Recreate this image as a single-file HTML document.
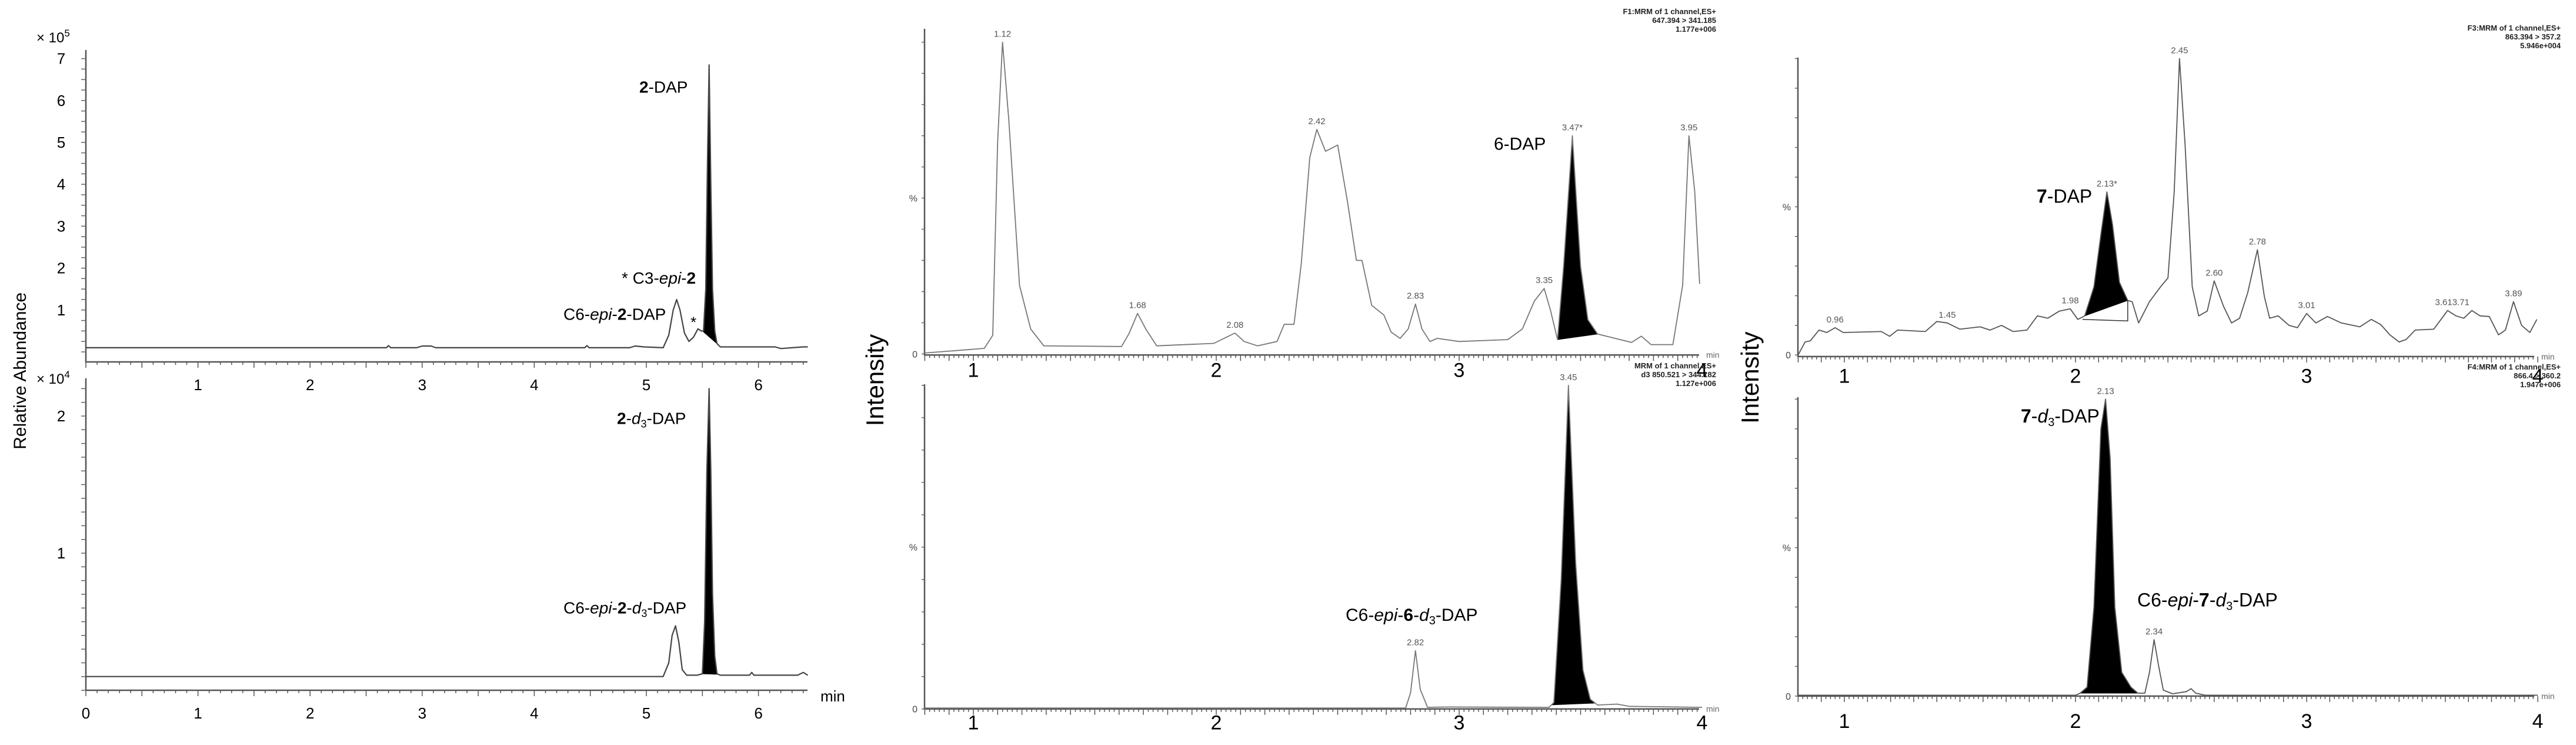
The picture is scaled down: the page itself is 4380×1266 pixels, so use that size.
<!DOCTYPE html>
<html><head><meta charset="utf-8"><style>
html,body{margin:0;padding:0;background:#fff;overflow:hidden;}
svg{display:block;font-family:"Liberation Sans",sans-serif;}
</style></head><body>
<svg id="fig" width="4380" height="1266" viewBox="0 0 4380 1266" xmlns="http://www.w3.org/2000/svg">
<g id="g"></g>
</svg>
<script>
// ---- data: [time(min), value] ----
const p1TopTrace=[[0,0.1],[2.68,0.1],[2.7,0.15],[2.72,0.1],[2.95,0.1],[3.0,0.14],[3.08,0.14],[3.12,0.1],[4.45,0.1],[4.47,0.15],[4.49,0.1],[4.85,0.1],[4.9,0.14],[4.98,0.12],[5.15,0.1],[5.2,0.4],[5.24,1.0],[5.27,1.25],[5.3,1.0],[5.34,0.45],[5.38,0.25],[5.42,0.35],[5.46,0.55],[5.49,0.5],[5.51,0.5],[5.53,1.5],[5.545,4.5],[5.56,6.85],[5.575,4.0],[5.59,1.5],[5.61,0.5],[5.63,0.2],[5.66,0.12],[6.15,0.12],[6.2,0.08],[6.3,0.1],[6.4,0.12],[6.44,0.12]];
const p1TopFill=[5.50,5.64];
const p1BotTrace=[[0,0.1],[5.15,0.1],[5.2,0.2],[5.23,0.4],[5.26,0.47],[5.29,0.35],[5.32,0.15],[5.36,0.11],[5.45,0.11],[5.5,0.12],[5.52,0.5],[5.54,1.6],[5.56,2.2],[5.575,1.6],[5.59,0.7],[5.61,0.25],[5.63,0.12],[5.66,0.11],[5.92,0.11],[5.94,0.13],[5.96,0.11],[6.35,0.11],[6.4,0.13],[6.44,0.11]];
const p1BotFill=[5.50,5.64];
const p2TopTrace=[[0.8,0.3],[1.045,1.8],[1.08,6],[1.1,68],[1.12,100],[1.146,75],[1.19,22],[1.236,8],[1.29,2.6],[1.61,2.4],[1.64,6.4],[1.676,13],[1.71,8],[1.755,2.6],[1.99,3.4],[2.05,5.7],[2.077,6.7],[2.115,4],[2.17,2.6],[2.25,4],[2.28,9.5],[2.32,9.5],[2.35,29],[2.385,63],[2.414,72],[2.45,65],[2.5,67],[2.54,49],[2.577,30],[2.6,30],[2.64,15.6],[2.69,12.5],[2.72,7],[2.757,5],[2.79,8],[2.82,16],[2.847,8],[2.88,4],[2.91,5],[3.0,4],[3.2,4.6],[3.26,8],[3.31,17],[3.35,21],[3.376,14],[3.405,4.6],[3.43,28],[3.466,70],[3.5,28],[3.53,11],[3.57,6.4],[3.71,3.7],[3.75,5.7],[3.79,3],[3.88,3],[3.92,22],[3.946,70],[3.97,52],[3.99,22.5]];
const p2TopFill=[3.405,3.57];
const p2BotTrace=[[0.8,0.3],[2.78,0.3],[2.8,5],[2.82,18],[2.84,6],[2.87,0.5],[2.95,0.6],[3.37,0.5],[3.39,2],[3.42,40],[3.45,100],[3.48,45],[3.51,12],[3.54,3],[3.57,1.2],[3.65,1.5],[3.7,0.8],[4.0,0.5]];
const p2BotFill=[3.38,3.56];
const p3TopTrace=[[0.8,0],[0.83,4.4],[0.853,4.8],[0.89,8.4],[0.924,7.6],[0.96,9.2],[0.995,7.6],[1.16,7.9],[1.196,6.3],[1.23,8.4],[1.35,7.9],[1.4,11.3],[1.445,10.8],[1.5,8.7],[1.587,9.5],[1.63,8.4],[1.68,10],[1.73,7.9],[1.79,8.4],[1.835,13.2],[1.88,12.4],[1.93,14.8],[1.977,15.6],[2.01,12],[2.04,13.2],[2.08,23],[2.11,40.6],[2.136,55],[2.16,44],[2.19,24.5],[2.226,18.4],[2.245,18],[2.273,10.8],[2.32,18],[2.368,23],[2.4,26],[2.427,55],[2.45,100],[2.474,71],[2.505,23],[2.533,13.2],[2.57,14.8],[2.6,25],[2.64,16.5],[2.675,10.8],[2.71,12.4],[2.745,21],[2.787,35.5],[2.817,19.7],[2.84,12.4],[2.877,13.2],[2.924,10],[2.96,9.2],[3.0,14],[3.04,10.8],[3.09,13],[3.15,10.8],[3.23,9.5],[3.28,12],[3.32,10.3],[3.36,6.8],[3.4,4.4],[3.43,5.2],[3.47,8.4],[3.55,8.7],[3.61,15],[3.646,13.2],[3.68,12.4],[3.715,15],[3.75,13.2],[3.79,13],[3.83,6.8],[3.86,8.4],[3.895,18],[3.93,10],[3.966,7.6],[3.996,12]];
const p3TopFill=[2.04,2.226];
const p3BotTrace=[[0.8,0.3],[2.0,0.3],[2.02,1],[2.05,3],[2.08,30],[2.11,90],[2.13,100],[2.15,80],[2.17,30],[2.2,8],[2.24,3],[2.27,1],[2.3,1],[2.32,8],[2.34,19],[2.36,10],[2.38,2],[2.42,0.8],[2.48,1.5],[2.5,2.5],[2.52,1],[2.56,0.3],[4.0,0.3]];
const p3BotFill=[2.02,2.27];
// peak labels [time, value, text]
const p2TopPeaks=[[1.12,100,"1.12"],[1.676,13,"1.68"],[2.077,6.7,"2.08"],[2.414,72,"2.42"],[2.82,16,"2.83"],[3.35,21,"3.35"],[3.466,70,"3.47*"],[3.946,70,"3.95"]];
const p2BotPeaks=[[2.82,18,"2.82"],[3.45,100,"3.45"]];
const p3TopPeaks=[[0.96,9.2,"0.96"],[1.445,10.8,"1.45"],[1.977,15.6,"1.98"],[2.136,55,"2.13*"],[2.45,100,"2.45"],[2.6,25,"2.60"],[2.787,35.5,"2.78"],[3.0,14,"3.01"],[3.63,15,"3.613.71"],[3.895,18,"3.89"]];
const p3BotPeaks=[[2.13,100,"2.13"],[2.34,19,"2.34"]];
const p1XTicks=[0,1,2,3,4,5,6];
const p1TopYTicks=[1,2,3,4,5,6,7];
const p1BotYTicks=[1,2];
const p23XTicks=[1,2,3,4];

const K=0.873; // vertical layout factor
const NS="http://www.w3.org/2000/svg";
const G=document.getElementById('g');
function el(tag,attrs,parent){const e=document.createElementNS(NS,tag);for(const k in attrs)e.setAttribute(k,attrs[k]);(parent||G).appendChild(e);return e;}
function txt(x,y,s,size,anchor,extra){const t=el('text',Object.assign({x:x,y:y,'font-size':size,'text-anchor':anchor||'start',fill:'#000'},extra||{}));t.innerHTML=s;return t;}
function interp(tr,t){for(let i=1;i<tr.length;i++){if(tr[i][0]>=t){const a=tr[i-1],b=tr[i];return a[1]+(b[1]-a[1])*(t-a[0])/(b[0]-a[0]);}}return tr[tr.length-1][1];}

function panel(name,cfg,trace,fill){
  const gp=el('g',{});
  
  
  const X=t=>cfg.xPx0+(t-cfg.tRef)*cfg.pxPerMin;
  const Y=v=>cfg.yPx0-v*cfg.pxPerUnit;
  const ax=el('path',{d:`M${cfg.axX},${cfg.axTop}V${cfg.axBot}H${cfg.axRight}`,stroke:'#555','stroke-width':2.5,fill:'none'},gp);
  
  
  let d='';
  for(let t=cfg.tMin;t<=cfg.tMax+1e-6;t+=cfg.minor){const x=X(t);const maj=Math.abs(t/cfg.major-Math.round(t/cfg.major))<1e-3;d+=`M${x.toFixed(1)},${cfg.axBot}v${maj?10:5}`;}
  el('path',{d:d,stroke:'#555','stroke-width':1.5},gp);
  let dy='';
  for(let v=cfg.yMinorStart;Y(v)>=cfg.axTop-1;v+=cfg.yMinor){dy+=`M${cfg.axX},${Y(v).toFixed(1)}h-${cfg.yTickLen}`;}
  el('path',{d:dy,stroke:'#666','stroke-width':1.5},gp);
  if(fill){
    const pts=trace.filter(p=>p[0]>=fill[0]-1e-6&&p[0]<=fill[1]+1e-6);
    const a=interp(trace,fill[0]),b=interp(trace,fill[1]);
    let fd=`M${X(fill[0])},${Y(a)}`;
    pts.forEach(p=>fd+=`L${X(p[0]).toFixed(1)},${Y(p[1]).toFixed(1)}`);
    fd+=`L${X(fill[1])},${Y(b)}Z`;
    const f=el('path',{d:fd,fill:'#000',stroke:'#000','stroke-width':1},gp);
    
    
  }
  const pd=trace.map((p,i)=>(i?'L':'M')+X(p[0]).toFixed(1)+','+Y(p[1]).toFixed(1)).join('');
  const tr=el('path',{d:pd,fill:'none',stroke:cfg.lineColor||'#555','stroke-width':cfg.lw||2,'stroke-linejoin':'round'},gp);
  
  
  return {X,Y,g:gp};
}

// ---------- Panel 1 ----------
const c1t={xPx0:146,tRef:0,pxPerMin:190.6,yPx0:598,pxPerUnit:71.2,axX:146,axTop:85,axBot:615,axRight:1373,tMin:0,tMax:6.44,minor:0.1,major:0.5,yMinorStart:0,yMinor:0.25,yTickLen:8,lineColor:'#444',lw:2.2};
const P1t=panel('panel-2-dap',c1t,p1TopTrace,p1TopFill);
p1XTicks.filter(v=>v>0).forEach(v=>{const t=txt(P1t.X(v),663,v,26,'middle');});
p1TopYTicks.forEach(v=>{const t=txt(104,P1t.Y(v)+9,v,26,'middle');});
txt(62,72,'× 10<tspan font-size="17" dy="-10">5</tspan>',24,'start');
const c1b={xPx0:146,tRef:0,pxPerMin:190.6,yPx0:1173,pxPerUnit:233,axX:146,axTop:643,axBot:1173,axRight:1373,tMin:0,tMax:6.44,minor:0.1,major:0.5,yMinorStart:0,yMinor:0.1,yTickLen:8,lineColor:'#444',lw:2.2};
const P1b=panel('panel-2-d3-dap',c1b,p1BotTrace,p1BotFill);
p1XTicks.forEach(v=>{const t=txt(P1b.X(v),1221,v,26,'middle');});
p1BotYTicks.forEach(v=>{const t=txt(104,P1b.Y(v)+9,v,26,'middle');});
txt(62,652,'× 10<tspan font-size="17" dy="-10">4</tspan>',24,'start');
txt(1395,1192,'min',26,'start');
const ra=txt(0,0,'Relative Abundance',30,'middle',{transform:`translate(44,${722*K}) rotate(-90)`});

txt(1087,170*K+9,'<tspan font-weight="bold">2</tspan>-DAP',28);
txt(1057,542*K+9,'* C3-<tspan font-style="italic">epi</tspan>-<tspan font-weight="bold">2</tspan>',28);
txt(958,612*K+9,'C6-<tspan font-style="italic">epi</tspan>-<tspan font-weight="bold">2</tspan>-DAP',28);
txt(1174,627*K+9,'*',26);
txt(1049,815*K+9,'<tspan font-weight="bold">2</tspan>-<tspan font-style="italic">d</tspan><tspan font-size="18" dy="6">3</tspan><tspan dy="-6">-DAP</tspan>',28);
txt(958,1184*K+9,'C6-<tspan font-style="italic">epi</tspan>-<tspan font-weight="bold">2</tspan>-<tspan font-style="italic">d</tspan><tspan font-size="18" dy="6">3</tspan><tspan dy="-6">-DAP</tspan>',28);

// ---------- Panels 2 & 3 ----------
function mlPanel(name,cfg,trace,fill,peaks,tickY,hdr){
  const P=panel(name,cfg,trace,fill);
  p23XTicks.forEach(v=>{if(v<=cfg.tMax+0.02){const t=txt(P.X(v),tickY,v,34,'middle');}});
  txt(cfg.axX-12,P.Y(0)+6,'0',16,'end',{fill:'#444'});
  txt(cfg.axX-12,P.Y(50)+6,'%',16,'end',{fill:'#444'});
  txt(cfg.axRight+12,cfg.axBot+5,'min',14,'start',{fill:'#666'});
  peaks.forEach(p=>{const t=txt(P.X(p[0]),P.Y(p[1])-9,p[2],15,'middle',{fill:'#555'});});
  hdr.lines.forEach((s,i)=>{const t=txt(hdr.x,hdr.y+i*15,s,13,'end',{'font-weight':'bold',fill:'#222'});});
  return P;
}
const c2t={xPx0:1655,tRef:1,pxPerMin:413,yPx0:689*K,pxPerUnit:6.07*K,axX:1572,axTop:56*K,axBot:691*K,axRight:2889,tMin:0.8,tMax:3.98,minor:0.02,major:0.1,yMinorStart:0,yMinor:10,yTickLen:5,lineColor:'#777',lw:1.8};
mlPanel('panel-6-dap',c2t,p2TopTrace,p2TopFill,p2TopPeaks,727*K+6,{x:2918,y:24,lines:['F1:MRM of 1 channel,ES+','647.394 &gt; 341.185','1.177e+006']});
txt(2540,279*K+11,'6-DAP',30);
const c2b={xPx0:1655,tRef:1,pxPerMin:413,yPx0:1380*K,pxPerUnit:6.3*K,axX:1572,axTop:748*K,axBot:1380*K,axRight:2889,tMin:0.8,tMax:3.98,minor:0.02,major:0.1,yMinorStart:0,yMinor:10,yTickLen:5,lineColor:'#777',lw:1.8};
mlPanel('panel-6-d3-dap',c2b,p2BotTrace,p2BotFill,p2BotPeaks,1413*K+6,{x:2918,y:626,lines:['MRM of 1 channel,ES+','d3 850.521 &gt; 344.182','1.127e+006']});
txt(2288,1196*K+11,'C6-<tspan font-style="italic">epi</tspan>-<tspan font-weight="bold">6</tspan>-<tspan font-style="italic">d</tspan><tspan font-size="20" dy="6">3</tspan><tspan dy="-6">-DAP</tspan>',30);
const it2=txt(0,0,'Intensity',42,'middle',{transform:`translate(1502,${740*K}) rotate(-90)`});


const c3t={xPx0:3136,tRef:1,pxPerMin:393,yPx0:691*K,pxPerUnit:5.77*K,axX:3057,axTop:112*K,axBot:694*K,axRight:4309,tMin:0.8,tMax:4.0,minor:0.02,major:0.1,yMinorStart:0,yMinor:10,yTickLen:5,lineColor:'#555',lw:1.8};
const P3t=mlPanel('panel-7-dap',c3t,p3TopTrace,p3TopFill,p3TopPeaks,738*K+6,{x:4354,y:52,lines:['F3:MRM of 1 channel,ES+','863.394 &gt; 357.2','5.946e+004']});
const tri=el('path',{d:`M${P3t.X(2.03)},${P3t.Y(12)}L${P3t.X(2.226)},${P3t.Y(11.5)}L${P3t.X(2.226)},${P3t.Y(18.4)}`,fill:'none',stroke:'#333','stroke-width':1.5});


txt(3463,382*K+11,'<tspan font-weight="bold">7</tspan>-DAP',32);
const c3b={xPx0:3136,tRef:1,pxPerMin:393,yPx0:1355*K,pxPerUnit:5.78*K,axX:3057,axTop:773*K,axBot:1355*K,axRight:4309,tMin:0.8,tMax:4.0,minor:0.02,major:0.1,yMinorStart:0,yMinor:10,yTickLen:5,lineColor:'#555',lw:1.8};
mlPanel('panel-7-d3-dap',c3b,p3BotTrace,p3BotFill,p3BotPeaks,1410*K+6,{x:4354,y:628,lines:['F4:MRM of 1 channel,ES+','866.4 &gt; 360.2','1.947e+006']});
txt(3436,810*K+11,'<tspan font-weight="bold">7</tspan>-<tspan font-style="italic">d</tspan><tspan font-size="20" dy="6">3</tspan><tspan dy="-6">-DAP</tspan>',32);
txt(3634,1168*K+11,'C6-<tspan font-style="italic">epi</tspan>-<tspan font-weight="bold">7</tspan>-<tspan font-style="italic">d</tspan><tspan font-size="20" dy="6">3</tspan><tspan dy="-6">-DAP</tspan>',32);
const it3=txt(0,0,'Intensity',42,'middle',{transform:`translate(2990,${735*K}) rotate(-90)`});

</script>
</body></html>
